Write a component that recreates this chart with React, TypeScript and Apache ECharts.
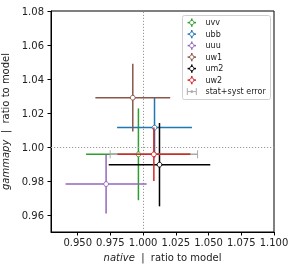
import React, { useEffect, useRef } from "react";
import * as echarts from "echarts";

const names = ["uvv", "ubb", "uuu", "uw1", "um2", "uw2"];
const colors = ["#2ca02c", "#1f77b4", "#9467bd", "#8c564b", "#000000", "#d62728"];
const xVals = [0.9964, 1.0087, 0.9717, 0.9921, 1.0125, 1.0082];
const xErrs = [0.040, 0.0286, 0.031, 0.0286, 0.0388, 0.0278];
const yVals = [0.9957, 1.0114, 0.9782, 1.029, 0.9896, 0.9957];
const yErrs = [0.027, 0.0176, 0.0173, 0.0199, 0.0245, 0.0157];
// stat+syst error for uw2
const totalName = "stat+syst error";
const totalX = [1.0082];
const totalY = [0.9957];
const totalXErr = [0.0334];

const xTicks = [0.95, 0.975, 1.0, 1.025, 1.05, 1.075, 1.1];
const yTicks = [0.96, 0.98, 1.0, 1.02, 1.04, 1.06, 1.08];

const FONT = "DejaVu Sans";

export default function App() {
  const ref = useRef<HTMLDivElement>(null);
  useEffect(() => {
    const chart = echarts.init(ref.current!, null, { renderer: "svg" });

    const errSeries = (name: string, color: string, data: number[][], withMarker: boolean, z: number, caps: boolean) => ({
      type: "custom",
      name,
      z,
      data,
      renderItem: (params: any, api: any) => {
        const x = api.value(0), y = api.value(1), xe = api.value(2), ye = api.value(3);
        const c = api.coord([x, y]);
        const l = api.coord([x - xe, y]);
        const r = api.coord([x + xe, y]);
        const t = api.coord([x, y + ye]);
        const b = api.coord([x, y - ye]);
        const st = { stroke: color, lineWidth: 1.5 };
        const children: any[] = [
          { type: "line", shape: { x1: l[0], y1: l[1], x2: r[0], y2: r[1] }, style: st },
        ];
        if (ye > 0) children.push({ type: "line", shape: { x1: t[0], y1: t[1], x2: b[0], y2: b[1] }, style: st });
        if (caps) {
          children.push({ type: "line", shape: { x1: l[0], y1: l[1] - 4, x2: l[0], y2: l[1] + 4 }, style: { stroke: color, lineWidth: 1 } });
          children.push({ type: "line", shape: { x1: r[0], y1: r[1] - 4, x2: r[0], y2: r[1] + 4 }, style: { stroke: color, lineWidth: 1 } });
        }
        if (withMarker) children.push({ type: "circle", shape: { cx: c[0], cy: c[1], r: 2.4 }, style: { fill: "#fff", stroke: color, lineWidth: 1 } });
        return { type: "group", children };
      },
    });

    const series: any[] = [];
    series.push({
      type: "custom",
      name: "ref",
      z: 1,
      data: [],
      renderItem: () => null,
      markLine: {
        silent: true,
        symbol: "none",
        label: { show: false },
        lineStyle: { color: "#999", type: [1.2, 1.8], width: 1 },
        data: [{ xAxis: 1.0 }, { yAxis: 1.0 }],
      },
    });
    names.forEach((n, i) => {
      if (i === names.length - 1) {
        series.push(
          errSeries(totalName, "#aaaaaa", totalX.map((v, k) => [v, totalY[k], totalXErr[k], 0]), false, 2 + i, true)
        );
      }
      series.push(errSeries(n, colors[i], [[xVals[i], yVals[i], xErrs[i], yErrs[i]]], true, 3 + i, false));
    });

    // legend
    const lx = 182, ly = 15, lw = 88, lh = 84;
    const rowY0 = 22.6, rowStep = 11.5, mx = 191.8, tx = 205.5;
    const legend: any[] = [
      { type: "rect", shape: { x: lx + 0.5, y: ly + 0.5, width: lw, height: lh, r: 2 }, style: { fill: "rgba(255,255,255,0.8)", stroke: "#d0d0d0", lineWidth: 1 }, z: 50 },
    ];
    names.forEach((n, i) => {
      const y = rowY0 + i * rowStep;
      legend.push({ type: "line", shape: { x1: mx - 4.2, y1: y, x2: mx + 4.2, y2: y }, style: { stroke: colors[i], lineWidth: 1.5 }, z: 51 });
      legend.push({ type: "line", shape: { x1: mx, y1: y - 4.2, x2: mx, y2: y + 4.2 }, style: { stroke: colors[i], lineWidth: 1.5 }, z: 51 });
      legend.push({ type: "circle", shape: { cx: mx, cy: y, r: 2.2 }, style: { fill: "#fff", stroke: colors[i], lineWidth: 1 }, z: 52 });
      legend.push({ type: "text", x: tx, y, style: { text: n, font: `8px '${FONT}'`, fill: "#222", verticalAlign: "middle" }, z: 52 });
    });
    {
      const y = rowY0 + names.length * rowStep;
      legend.push({ type: "line", shape: { x1: mx - 4.5, y1: y, x2: mx + 4.5, y2: y }, style: { stroke: "#aaa", lineWidth: 1 }, z: 51 });
      legend.push({ type: "line", shape: { x1: mx - 4.5, y1: y - 3.5, x2: mx - 4.5, y2: y + 3.5 }, style: { stroke: "#aaa", lineWidth: 1 }, z: 51 });
      legend.push({ type: "line", shape: { x1: mx + 4.5, y1: y - 3.5, x2: mx + 4.5, y2: y + 3.5 }, style: { stroke: "#aaa", lineWidth: 1 }, z: 51 });
      legend.push({ type: "circle", shape: { cx: mx, cy: y, r: 1.2 }, style: { fill: "#aaa", stroke: "#aaa", lineWidth: 0.5 }, z: 52 });
      legend.push({ type: "text", x: tx, y, style: { text: totalName, font: `8px '${FONT}'`, fill: "#222", verticalAlign: "middle" }, z: 52 });
    }

    const axisCommon = {
      axisLine: { show: true, lineStyle: { color: "#000", width: 1 } },
      splitLine: { show: false },
    };

    chart.setOption({
      animation: false,
      textStyle: { fontFamily: FONT },
      grid: { left: 51, right: 22, top: 11, bottom: 39, show: true, borderColor: "#000", borderWidth: 1, containLabel: false, outerBoundsMode: "none" },
      xAxis: {
        type: "value",
        min: 0.9296,
        max: 1.1,
        ...axisCommon,
        axisTick: { show: true, customValues: xTicks, length: 3.5, lineStyle: { color: "#000" } },
        axisLabel: { customValues: xTicks, formatter: (v: number) => v.toFixed(3), fontSize: 10, color: "#222", fontFamily: FONT, margin: 5 },
        name: "{i|native}  |  ratio to model",
        nameLocation: "middle",
        nameGap: 20,
        nameTextStyle: {
          fontSize: 10, color: "#222", fontFamily: FONT,
          rich: { i: { fontStyle: "italic", fontSize: 10, color: "#222", fontFamily: FONT } },
        },
      },
      yAxis: {
        type: "value",
        min: 0.95,
        max: 1.08,
        ...axisCommon,
        axisTick: { show: true, customValues: yTicks, length: 3.5, lineStyle: { color: "#000" } },
        axisLabel: { customValues: yTicks, formatter: (v: number) => v.toFixed(2), fontSize: 10, color: "#222", fontFamily: FONT, margin: 7 },
        name: "{i|gammapy}  |  ratio to model",
        nameLocation: "middle",
        nameGap: 33,
        nameTextStyle: {
          fontSize: 10, color: "#222", fontFamily: FONT,
          rich: { i: { fontStyle: "italic", fontSize: 10, color: "#222", fontFamily: FONT } },
        },
      },
      series,
      graphic: legend,
    });
    return () => chart.dispose();
  }, []);
  return <div ref={ref} style={{ position: "fixed", left: 0, top: 0, width: 296, height: 271 }} />;
}
